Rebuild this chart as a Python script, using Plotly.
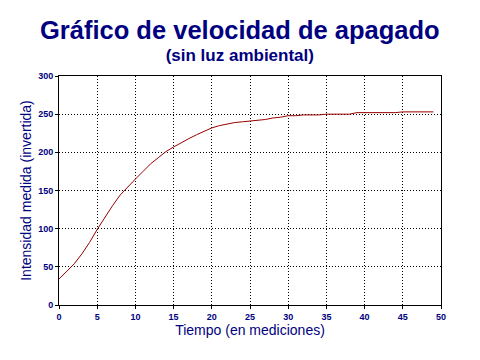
import plotly.graph_objects as go

tiempo = list(range(0, 50))
intensidad = [34, 44, 54, 67, 82, 99, 115, 130, 144, 155,
              165, 175, 185, 193, 201, 207, 213, 218, 223, 228,
              232, 235, 237, 239, 240, 241, 242, 243, 245, 246,
              248, 248, 249, 249, 249, 250, 250, 250, 250, 252,
              252, 252, 252, 252, 252, 253, 253, 253, 253, 253]

x_ticks = [0, 5, 10, 15, 20, 25, 30, 35, 40, 45, 50]
y_ticks = [0, 50, 100, 150, 200, 250, 300]

titulo = "Gráfico de velocidad de apagado"
subtitulo = "(sin luz ambiental)"

navy = "#000080"
font_fam = "Liberation Sans, Arial"
OFF = 8  # page body margin offset

fig = go.Figure()
fig.add_trace(go.Scatter(x=tiempo, y=intensidad, mode="lines",
                         line=dict(color="#990000", width=1), showlegend=False))

axis_common = dict(showline=True, linecolor="black", linewidth=1, mirror=True,
                   showgrid=True, gridcolor="black", gridwidth=1, griddash="1px,2px",
                   ticks="outside", ticklen=3, tickcolor="black", zeroline=False,
                   automargin=False,
                   tickfont=dict(family=font_fam, size=9, color=navy, weight="bold"))

L, R, T, B = 59 - OFF, 39 + OFF, 76 - OFF, 55 + OFF
W, H = 480, 360

fig.update_layout(
    width=W, height=H,
    margin=dict(l=L, r=R, t=T, b=B),
    paper_bgcolor="white", plot_bgcolor="white",
    xaxis=dict(range=[0, 50], tickvals=x_ticks, ticktext=[str(v) for v in x_ticks],
               title=dict(text="Tiempo (en mediciones)", standoff=3,
                          font=dict(family=font_fam, size=14, color=navy)),
               **axis_common),
    yaxis=dict(range=[0, 300], tickvals=y_ticks, ticktext=[str(v) for v in y_ticks],
               title=dict(text="Intensidad medida (invertida)", standoff=3,
                          font=dict(family=font_fam, size=14, color=navy)),
               **axis_common),
)

plot_h = H - T - B
plot_w = W - L - R

title_text = ("<span style='font-size:25.5px'><b>" + titulo + "</b></span><br>"
              "<b>" + subtitulo + "</b>")
page_bottom = 67.5
fig.add_annotation(text=title_text, xref="paper", yref="paper",
                   x=(240 - OFF - L) / plot_w,
                   y=(H - B - (page_bottom - OFF)) / plot_h,
                   xanchor="center", yanchor="bottom", align="center", showarrow=False,
                   font=dict(family=font_fam, size=17, color=navy))

fig.write_html("out.html")
